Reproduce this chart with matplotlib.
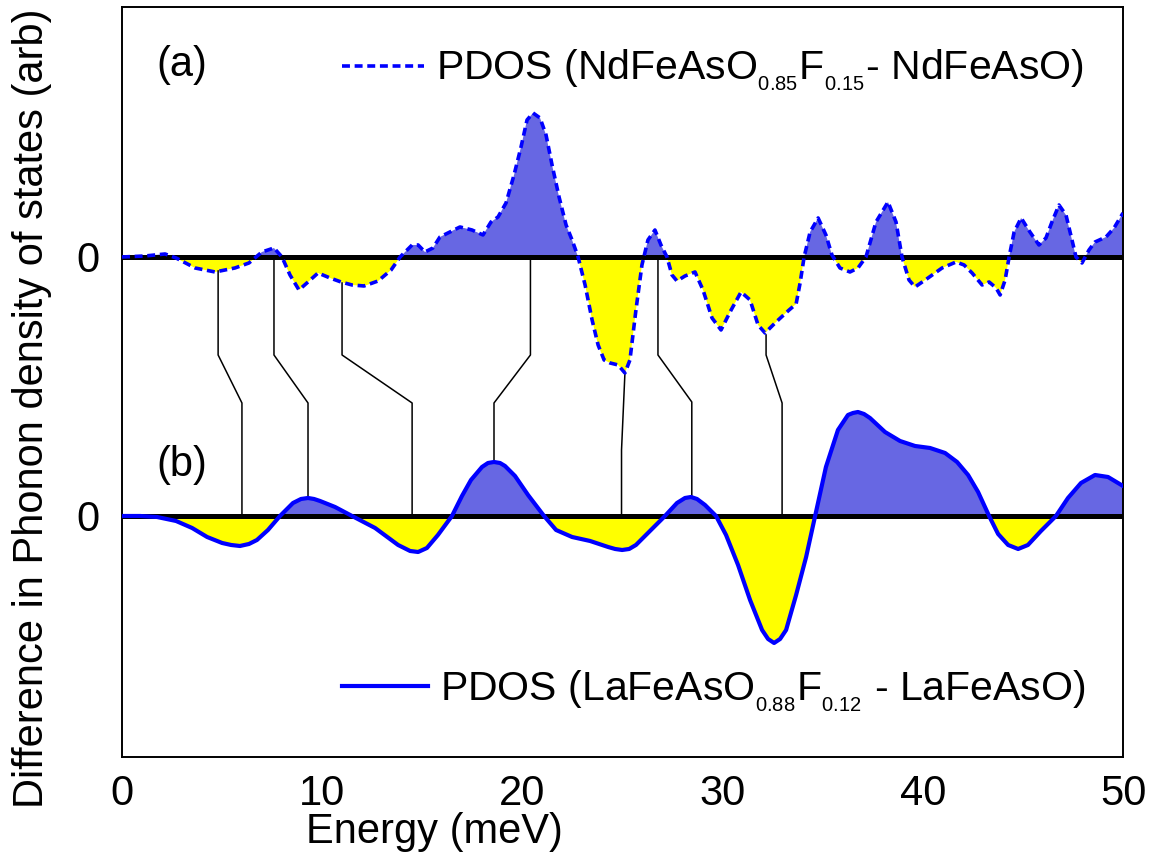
import numpy as np
import matplotlib.pyplot as plt

plt.rcParams['font.family'] = ['Liberation Sans', 'DejaVu Sans']
plt.rcParams['mathtext.fontset'] = 'custom'
plt.rcParams['mathtext.rm'] = 'Liberation Sans'
plt.rcParams['mathtext.it'] = 'Liberation Sans'

# ---- data (energy in meV, PDOS difference in arb. units)
energy_a = [0.00, 1.15, 2.15, 2.70, 3.65, 4.65, 5.64, 6.34, 6.99, 7.59, 7.99, 8.39,
            8.84, 9.29, 9.79, 10.39, 10.94, 11.49, 12.09, 12.79, 13.44, 13.89, 14.49,
            14.79, 15.13, 15.53, 15.88, 16.88, 17.48, 18.03, 18.43, 18.78, 19.18, 19.58,
            19.93, 20.23, 20.53, 20.88, 21.18, 21.48, 21.83, 22.18, 22.48, 22.78, 23.13,
            23.48, 23.78, 24.08, 24.38, 24.78, 25.12, 25.37, 25.67, 25.97, 26.27, 26.62,
            26.92, 27.22, 27.47, 27.72, 28.12, 28.62, 29.02, 29.47, 29.92, 30.37, 30.92,
            31.37, 31.77, 32.12, 32.67, 33.32, 33.67, 33.87, 34.07, 34.37, 34.77, 35.16,
            35.46, 35.86, 36.36, 36.76, 37.16, 37.66, 38.26, 38.66, 38.96, 39.31, 39.61,
            40.26, 40.96, 41.66, 42.06, 42.46, 42.96, 43.31, 43.66, 43.86, 44.11, 44.31,
            44.56, 44.91, 45.35, 45.80, 46.15, 46.45, 46.80, 47.15, 47.45, 47.65, 47.95,
            48.30, 48.60, 49.15, 49.55, 50.00]
pdos_a = [0.00, 0.01, 0.03, -0.01, -0.11, -0.15, -0.11, -0.06, 0.05, 0.09, 0.00, -0.18,
          -0.33, -0.25, -0.16, -0.21, -0.25, -0.28, -0.29, -0.24, -0.13, 0.00, 0.12,
          0.12, 0.05, 0.09, 0.20, 0.30, 0.27, 0.22, 0.35, 0.40, 0.54, 0.82,
          1.10, 1.37, 1.44, 1.39, 1.22, 0.92, 0.60, 0.32, 0.17, 0.00, -0.28,
          -0.63, -0.88, -1.03, -1.06, -1.08, -1.16, -1.03, -0.53, -0.08, 0.17, 0.27,
          0.12, 0.00, -0.18, -0.24, -0.19, -0.15, -0.33, -0.61, -0.73, -0.55, -0.35,
          -0.43, -0.68, -0.76, -0.65, -0.53, -0.47, -0.26, 0.00, 0.25, 0.39, 0.22,
          0.02, -0.11, -0.15, -0.11, 0.00, 0.35, 0.55, 0.35, 0.00, -0.23, -0.30,
          -0.21, -0.11, -0.05, -0.08, -0.16, -0.28, -0.25, -0.31, -0.38, -0.23, 0.00,
          0.25, 0.39, 0.25, 0.12, 0.19, 0.35, 0.52, 0.42, 0.17, 0.00, -0.06,
          0.07, 0.15, 0.20, 0.29, 0.44]

energy_b = [0.00, 0.90, 1.75, 2.70, 3.50, 4.25, 5.00, 5.45, 5.89, 6.34, 6.74, 7.29,
            7.89, 8.54, 8.94, 9.29, 9.59, 9.89, 10.64, 11.49, 12.64, 13.79, 14.39,
            14.79, 15.23, 15.78, 16.48, 16.98, 17.43, 17.98, 18.28, 18.58, 18.88, 19.13,
            19.63, 20.28, 21.08, 21.68, 22.48, 23.38, 24.28, 24.63, 24.98, 25.33, 25.67,
            26.42, 27.12, 27.72, 28.12, 28.42, 28.72, 29.12, 29.67, 30.17, 30.77, 31.37,
            31.97, 32.27, 32.57, 32.87, 33.17, 33.67, 34.17, 34.62, 35.16, 35.76, 36.26,
            36.51, 36.76, 37.06, 37.36, 38.11, 38.86, 39.61, 40.36, 41.11, 41.71, 42.26,
            42.76, 43.31, 43.76, 44.26, 44.76, 45.25, 45.90, 46.65, 47.25, 47.90, 48.60,
            49.25, 50.00]
pdos_b = [0.00, 0.00, -0.01, -0.05, -0.12, -0.21, -0.27, -0.29, -0.30, -0.28, -0.24,
          -0.14, 0.00, 0.13, 0.17, 0.18, 0.17, 0.15, 0.09, 0.00, -0.12, -0.29, -0.35,
          -0.36, -0.32, -0.19, 0.00, 0.20, 0.36, 0.49, 0.53, 0.54, 0.53, 0.50,
          0.40, 0.21, 0.00, -0.14, -0.21, -0.25, -0.31, -0.33, -0.34, -0.33, -0.29,
          -0.14, 0.00, 0.13, 0.18, 0.19, 0.17, 0.11, 0.00, -0.19, -0.49, -0.84,
          -1.14, -1.23, -1.27, -1.23, -1.14, -0.79, -0.41, 0.00, 0.49, 0.86, 1.01,
          1.03, 1.04, 1.02, 0.98, 0.84, 0.75, 0.70, 0.68, 0.63, 0.54, 0.41,
          0.24, 0.00, -0.18, -0.29, -0.33, -0.29, -0.15, 0.00, 0.18, 0.33, 0.41,
          0.39, 0.30]

offset_a = 2.59  # baseline of panel (a) above panel (b)

# peak-correspondence connectors: (energy, level) points in plot units
connectors = [
    [(4.80, 2.45), (4.80, 1.61), (5.99, 1.13), (5.99, 0.00)],
    [(7.59, 2.58), (7.59, 1.61), (9.29, 1.13), (9.29, 0.18)],
    [(10.99, 2.33), (10.99, 1.61), (14.49, 1.13), (14.49, 0.00)],
    [(20.40, 2.58), (20.40, 1.61), (18.58, 1.13), (18.58, 0.54)],
    [(25.12, 1.43), (24.95, 0.66), (24.95, 0.00)],
    [(26.77, 2.58), (26.77, 1.61), (28.46, 1.14), (28.46, 0.19)],
    [(32.17, 1.81), (32.17, 1.61), (32.97, 1.13), (32.97, 0.00)],
]

label_a = r'PDOS (NdFeAsO$_{_{0.85}}$F$_{_{0.15}}$- NdFeAsO)'
label_b = r'PDOS (LaFeAsO$_{_{0.88}}$F$_{_{0.12}}$ - LaFeAsO)'

pos_color = '#6767e3'
neg_color = '#ffff00'

fig = plt.figure(figsize=(11.61, 8.61), dpi=100)
ax = fig.add_axes([0.1051, 0.1208, 0.8622, 0.8711])

ea = np.array(energy_a)
pa = np.array(pdos_a)
eb = np.array(energy_b)
pb = np.array(pdos_b)

# panel (a)
ax.fill_between(ea, offset_a, offset_a + pa, where=pa >= 0, interpolate=True,
                color=pos_color, lw=0, zorder=1)
ax.fill_between(ea, offset_a, offset_a + pa, where=pa <= 0, interpolate=True,
                color=neg_color, lw=0, zorder=1)
ax.axhline(offset_a, color='black', lw=3.6, zorder=2)
line_a, = ax.plot(ea, offset_a + pa, color='blue', lw=2.6, dashes=(2.2, 1.3), zorder=3)

# panel (b)
ax.fill_between(eb, 0, pb, where=pb >= 0, interpolate=True,
                color=pos_color, lw=0, zorder=1)
ax.fill_between(eb, 0, pb, where=pb <= 0, interpolate=True,
                color=neg_color, lw=0, zorder=1)
ax.axhline(0, color='black', lw=3.6, zorder=2)
line_b, = ax.plot(eb, pb, color='blue', lw=3.0, zorder=3, solid_joinstyle='round')

for pts in connectors:
    xs, ys = zip(*pts)
    ax.plot(xs, ys, color='black', lw=1.1, zorder=1.5)

ax.text(2.98, offset_a + 1.92, '(a)', fontsize=30, ha='center', va='center')
ax.text(2.98, 0.51, '(b)', fontsize=30, ha='center', va='center')

leg_a = ax.legend([line_a], [label_a], loc='center left', bbox_to_anchor=(0.2198, 0.915),
                  frameon=False, fontsize=29.5, handlelength=2.0, handletextpad=0.3,
                  borderpad=0, borderaxespad=0)
ax.add_artist(leg_a)
ax.legend([line_b], [label_b], loc='center left', bbox_to_anchor=(0.2198, 0.088),
          frameon=False, fontsize=29.5, handlelength=2.1, handletextpad=0.3,
          borderpad=0, borderaxespad=0)

ax.set_xlim(0, 50)
ax.set_ylim(-2.41, 5.09)
ax.set_xticks([0, 10, 20, 30, 40, 50])
ax.set_yticks([0, offset_a])
ax.set_yticklabels(['0', '0'])
ax.tick_params(length=0, labelsize=30)
ax.tick_params(axis='x', pad=12)
ax.tick_params(axis='y', pad=16)
for s in ax.spines.values():
    s.set_linewidth(1.4)

ax.set_xlabel('Energy (meV)', fontsize=30)
ax.xaxis.set_label_coords(0.312, -0.074)
ax.set_ylabel('Difference in Phonon density of states (arb)', fontsize=30)
ax.yaxis.set_label_coords(-0.070, 0.465)

fig.savefig('out.png', dpi=100)
